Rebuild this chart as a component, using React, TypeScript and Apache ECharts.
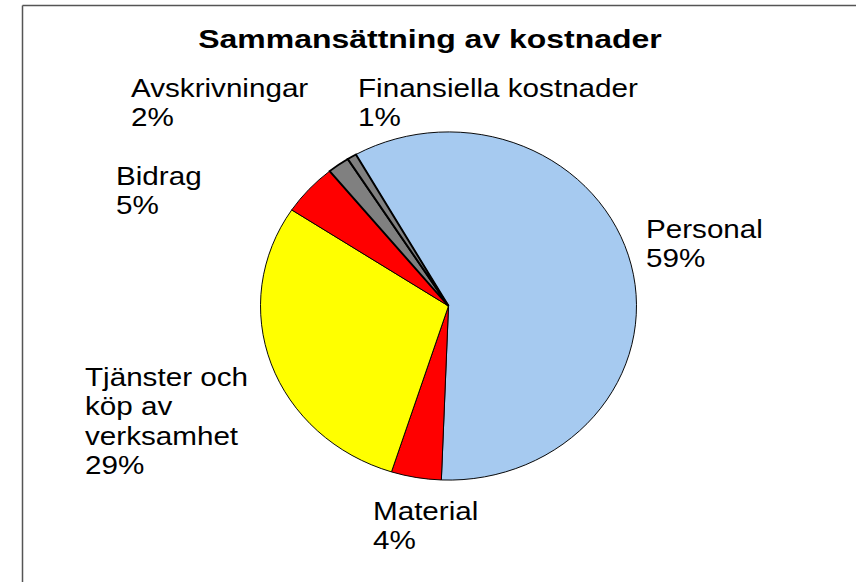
import React, { useEffect, useRef } from "react";
import * as echarts from "echarts";

// ---- data ----
const titleText = "Sammansättning av kostnader";
const categories = [
  "Personal",
  "Material",
  "Tjänster och köp av verksamhet",
  "Bidrag",
  "Avskrivningar",
  "Finansiella kostnader",
];
const shares = [58.8, 4.3, 29.4, 4.8, 1.9, 0.8];

// ---- styles / layout (not data) ----
const sliceColors = ["#A6CAF0", "#FF0000", "#FFFF00", "#FF0000", "#808080", "#808080"];
const borderWidths = [1, 1, 1, 1, 2, 2];
const CX = 448.5;
const CY = 306;
const RX = 188;
const RY = 174;
const START_DEG = -29.5; // clockwise from 12 o'clock
const labelLayout: { x: number; y: number; w?: number }[] = [
  { x: 646, y: 214 },
  { x: 373, y: 496 },
  { x: 85, y: 362, w: 165 },
  { x: 116, y: 161 },
  { x: 131, y: 73 },
  { x: 358, y: 73 },
];
const FONT = '"Liberation Sans", Arial, Helvetica, sans-serif';

export default function App() {
  const ref = useRef<HTMLDivElement>(null);

  useEffect(() => {
    if (!ref.current) return;
    const chart = echarts.init(ref.current, undefined, { renderer: "svg" });
    const total = shares.reduce((a, b) => a + b, 0);
    const cum: number[] = [];
    let acc = 0;
    shares.forEach((v) => {
      cum.push(acc);
      acc += v;
    });
    const toRad = (d: number) => ((d - 90) * Math.PI) / 180;

    chart.setOption({
      animation: false,
      backgroundColor: "#ffffff",
      graphic: [
        {
          type: "line",
          shape: { x1: 22.5, y1: 5.5, x2: 856, y2: 5.5 },
          style: { stroke: "#555555", lineWidth: 1.5 },
        },
        {
          type: "line",
          shape: { x1: 22.5, y1: 5.5, x2: 22.5, y2: 582 },
          style: { stroke: "#555555", lineWidth: 1.5 },
        },
        {
          type: "text",
          x: 430,
          y: 39,
          scaleX: 1.23,
          style: {
            text: titleText,
            fontFamily: FONT,
            fontSize: 26,
            fontWeight: "bold",
            fill: "#000000",
            align: "center",
            verticalAlign: "middle",
          },
        },
      ],
      series: [
        {
          type: "custom",
          coordinateSystem: "none",
          silent: true,
          data: shares.map((v, i) => ({ value: [v], name: categories[i] })),
          renderItem: (params: any, api: any) => {
            const i = params.dataIndex;
            const v = api.value(0) as number;
            const s = START_DEG + (cum[i] / total) * 360;
            const e = s + (v / total) * 360;
            const pct = Math.round((v / total) * 100);
            const L = labelLayout[i];
            const textStyle: any = {
              text: `${categories[i]}\n${pct}%`,
              fontFamily: FONT,
              fontSize: 26,
              fill: "#000000",
              align: "left",
              verticalAlign: "top",
              lineHeight: 29.5,
            };
            if (L.w) {
              textStyle.width = L.w;
              textStyle.overflow = "break";
            }
            return {
              type: "group",
              children: [
                {
                  type: "sector",
                  x: CX,
                  y: CY,
                  scaleY: RY / RX,
                  shape: {
                    cx: 0,
                    cy: 0,
                    r: RX,
                    r0: 0,
                    startAngle: toRad(s),
                    endAngle: toRad(e),
                    clockwise: true,
                  },
                  style: {
                    fill: sliceColors[i],
                    stroke: "#000000",
                    lineWidth: borderWidths[i],
                  },
                },
                {
                  type: "text",
                  x: L.x,
                  y: L.y,
                  scaleX: 1.14,
                  style: textStyle,
                },
              ],
            };
          },
        },
      ],
    });
    return () => chart.dispose();
  }, []);

  return (
    <div
      ref={ref}
      style={{ position: "fixed", left: 0, top: 0, width: 856, height: 582 }}
    />
  );
}
